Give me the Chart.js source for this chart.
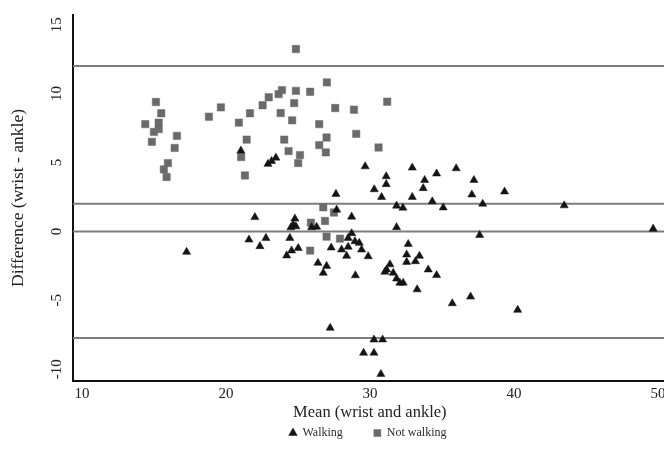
<!DOCTYPE html>
<html><head><meta charset="utf-8">
<script src="https://cdn.jsdelivr.net/npm/chart.js@4.4.1/dist/chart.umd.min.js"></script>
<style>
html,body{margin:0;padding:0;background:#fff;overflow:hidden;width:664px;height:458px}
#wrap{position:relative;width:736px;height:458px}
</style></head>
<body><div id="wrap"><canvas id="c" width="736" height="458"></canvas></div>
<script>
// Walking (triangles)
const walkingX = [21.04,22.92,23.17,23.47,29.67,32.94,34.63,35.99,31.13,31.13,33.80,33.70,37.22,30.30,27.64,30.81,32.94,37.08,39.35,37.83,31.85,32.29,34.33,35.09,28.73,31.85,37.62,27.69,28.73,25.95,26.30,28.49,28.96,29.26,29.42,29.88,27.31,28.03,28.38,26.39,26.99,26.76,28.99,31.39,31.16,31.04,31.62,31.85,32.08,32.31,32.66,32.55,33.44,32.55,33.16,34.05,34.63,33.28,35.72,36.99,43.49,49.67,40.26,27.24,30.28,30.88,29.56,30.28,30.76,22.01,21.60,22.78,22.36,24.79,24.67,24.51,24.86,24.44,25.02,24.56,24.22,17.27,28.49];
const walkingY = [5.85,4.89,5.10,5.34,4.71,4.62,4.19,4.57,3.99,3.42,3.72,3.13,3.72,3.05,2.71,2.49,2.49,2.67,2.89,2.00,1.86,1.71,2.17,1.73,1.06,0.30,-0.27,1.57,-0.14,0.29,0.32,-1.12,-0.72,-0.84,-1.32,-1.81,-1.18,-1.32,-1.78,-2.29,-2.51,-3.01,-3.19,-2.40,-2.77,-2.94,-3.01,-3.43,-3.73,-3.73,-0.92,-1.68,-1.78,-2.22,-2.17,-2.77,-3.18,-4.21,-5.22,-4.74,1.88,0.19,-5.70,-7.00,-7.85,-7.85,-8.81,-8.81,-10.35,1.03,-0.60,-0.48,-1.08,0.92,0.48,0.29,0.36,-0.48,-1.21,-1.39,-1.75,-1.49,-0.48];
// Not walking (squares)
const notWalkingX = [24.86,15.14,15.51,14.40,15.33,15.33,15.00,14.86,16.60,16.44,15.97,15.69,15.88,18.82,19.65,20.90,21.67,21.44,21.06,21.32,22.55,22.97,23.66,23.89,23.80,24.86,24.74,24.60,25.85,27.01,26.48,24.05,24.35,25.14,25.02,26.48,26.99,26.94,27.59,28.89,31.20,29.05,30.60,26.76,27.50,26.88,25.90,26.99,27.92,25.85];
const notWalkingY = [13.23,9.39,8.57,7.78,7.89,7.42,7.22,6.50,6.93,6.06,4.96,4.50,3.95,8.32,9.00,7.89,8.57,6.66,5.39,4.06,9.15,9.73,9.96,10.25,8.59,10.20,9.31,8.06,10.13,10.81,7.78,6.66,5.83,5.54,4.96,6.26,6.81,5.73,8.95,8.83,9.41,7.08,6.09,1.75,1.37,0.76,0.63,-0.38,-0.52,-1.39];
// Reference lines: upper limit, mean difference, zero, lower limit
const refLines = [12.0, 2.0, 0, -7.73];
const xTicks = [10, 20, 30, 40, 50];
const yTicks = [-10, -5, 0, 5, 10, 15];
const xRange = [9.36, 50.63];
const yRange = [-10.85, 15.7];

const serif = "'Liberation Serif','DejaVu Serif',serif";
const toPts = (xs, ys) => xs.map((x, i) => ({x: x, y: ys[i]}));

const datasets = [
  {label: 'Walking', data: toPts(walkingX, walkingY), pointStyle: 'triangle', pointRadius: 4.7,
   backgroundColor: '#141414', borderColor: '#141414', borderWidth: 0.5, order: 1},
  {label: 'Not walking', data: toPts(notWalkingX, notWalkingY), pointStyle: 'rect', pointRadius: 5.2,
   backgroundColor: '#6a6a6a', borderColor: '#6a6a6a', borderWidth: 0.5, order: 2}
];
refLines.forEach(v => datasets.push({
  label: 'ref', data: [{x: xRange[0], y: v}, {x: xRange[1], y: v}], showLine: true,
  pointRadius: 0, borderColor: '#7c7c7c', borderWidth: 2, order: 3
}));

new Chart(document.getElementById('c'), {
  type: 'scatter',
  data: {datasets},
  options: {
    responsive: false, animation: false, devicePixelRatio: 1,
    layout: {padding: {top: 8, right: 0, bottom: 9, left: 0}},
    plugins: {
      tooltip: {enabled: false},
      legend: {
        position: 'bottom',
        labels: {
          usePointStyle: true, boxWidth: 7, boxHeight: 7, padding: 10,
          color: '#2a2a2a', font: {family: serif, size: 12},
          filter: item => item.datasetIndex < 2,
          generateLabels: chart => {
            const items = Chart.defaults.plugins.legend.labels.generateLabels(chart);
            if (items[0]) items[0].text = items[0].text + ' '.repeat(7);
            return items;
          }
        }
      }
    },
    scales: {
      x: {
        type: 'linear', min: xRange[0], max: xRange[1],
        afterBuildTicks: s => { s.ticks = xTicks.map(v => ({value: v})); },
        afterFit: s => { s.height = 36; },
        grid: {display: false, drawTicks: false},
        border: {display: true, color: '#111', width: 2},
        ticks: {color: '#222', padding: 4, font: {family: serif, size: 15}, maxRotation: 0, autoSkip: false},
        title: {display: true, text: 'Mean (wrist and ankle)', color: '#222',
                font: {family: serif, size: 16.5}, padding: {top: 0, bottom: -6}}
      },
      y: {
        type: 'linear', min: yRange[0], max: yRange[1],
        afterBuildTicks: s => { s.ticks = yTicks.map(v => ({value: v})); },
        afterFit: s => { s.width = 72.7; },
        grid: {display: false, drawTicks: false},
        border: {display: true, color: '#111', width: 2},
        ticks: {color: '#222', padding: 6, crossAlign: 'center', minRotation: 90, maxRotation: 90,
                font: {family: serif, size: 15}, autoSkip: false},
        title: {display: true, text: 'Difference (wrist - ankle)', color: '#222',
                font: {family: serif, size: 17.5}, padding: {top: 8, bottom: 0}}
      },
      // empty right-hand spacer scale (off-screen) so the plot area ends just past the window edge
      yRight: {
        type: 'linear', position: 'right', min: yRange[0], max: yRange[1],
        afterFit: s => { s.width = 69; },
        grid: {display: false, drawTicks: false},
        border: {display: false},
        ticks: {display: false}
      }
    }
  }
});
</script></body></html>
